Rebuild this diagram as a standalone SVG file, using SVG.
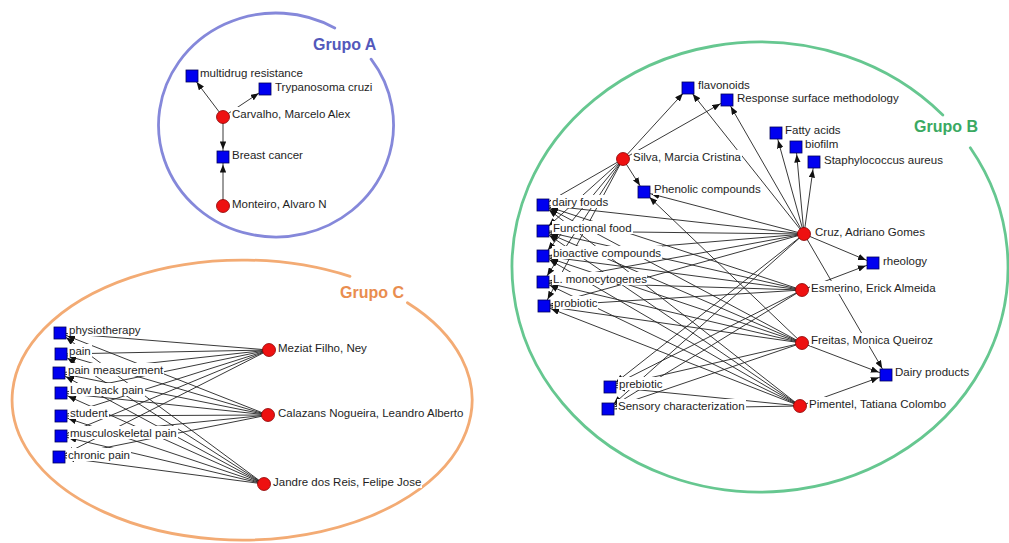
<svg xmlns="http://www.w3.org/2000/svg" width="1009" height="543" viewBox="0 0 1009 543">
<defs>
<marker id="arr" viewBox="0 0 10 8" markerWidth="8" markerHeight="6.4" refX="19.5" refY="4" orient="auto" markerUnits="userSpaceOnUse">
<path d="M0,0 L10,4 L0,8 z" fill="#111"/>
</marker>
<style>
.e{stroke:#222;stroke-width:0.9;fill:none;marker-end:url(#arr)}
.sq{fill:#0000f0;stroke:#00005a;stroke-width:0.8}
.ci{fill:#ee1111;stroke:#8a0000;stroke-width:0.8}
.bg{fill:#fff}
.lb{font-family:"Liberation Sans",Arial,sans-serif;font-size:11.5px;fill:#1e1e1e}
.gl{font-family:"Liberation Sans",Arial,sans-serif;font-size:16px;font-weight:bold}
.grp{fill:none;stroke-width:2.8;stroke-linecap:round}
</style>
</defs>
<rect width="1009" height="543" fill="#fff"/>

<g id="groups">
<path class="grp" stroke="#8588da" d="M371.1,59.2 A117.5,112 0 1 1 334.75,28.0"/>
<text class="gl" x="313" y="50" fill="#5358bb">Grupo A</text>
<path class="grp" stroke="#f3ab74" d="M407.4,302.7 A230,140 0 1 1 350,276.4"/>
<text class="gl" x="340" y="298" fill="#e98d4f">Grupo C</text>
<path class="grp" stroke="#66c790" d="M970.3,147.8 A248,225 0 1 1 942.8,115"/>
<text class="gl" x="914" y="132" fill="#3aa962">Grupo B</text>
</g>

<g id="connectors">
<line class="e" x1="223" y1="117" x2="192" y2="76"/>
<line class="e" x1="223" y1="117" x2="265" y2="89"/>
<line class="e" x1="223" y1="117" x2="223" y2="157"/>
<line class="e" x1="223" y1="206" x2="223" y2="157"/>

<line class="e" x1="269" y1="350" x2="60" y2="333"/>
<line class="e" x1="269" y1="350" x2="61" y2="354"/>
<line class="e" x1="269" y1="350" x2="59" y2="373"/>
<line class="e" x1="269" y1="350" x2="61" y2="393"/>
<line class="e" x1="269" y1="350" x2="61" y2="416"/>
<line class="e" x1="269" y1="350" x2="61" y2="436"/>
<line class="e" x1="269" y1="350" x2="59" y2="457"/>
<line class="e" x1="268" y1="415" x2="60" y2="333"/>
<line class="e" x1="268" y1="415" x2="61" y2="354"/>
<line class="e" x1="268" y1="415" x2="59" y2="373"/>
<line class="e" x1="268" y1="415" x2="61" y2="393"/>
<line class="e" x1="268" y1="415" x2="61" y2="416"/>
<line class="e" x1="268" y1="415" x2="61" y2="436"/>
<line class="e" x1="268" y1="415" x2="59" y2="457"/>
<line class="e" x1="264" y1="484" x2="60" y2="333"/>
<line class="e" x1="264" y1="484" x2="61" y2="354"/>
<line class="e" x1="264" y1="484" x2="59" y2="373"/>
<line class="e" x1="264" y1="484" x2="61" y2="393"/>
<line class="e" x1="264" y1="484" x2="61" y2="416"/>
<line class="e" x1="264" y1="484" x2="61" y2="436"/>
<line class="e" x1="264" y1="484" x2="59" y2="457"/>

<line class="e" x1="623" y1="159" x2="688" y2="88"/>
<line class="e" x1="623" y1="159" x2="727" y2="100"/>
<line class="e" x1="623" y1="159" x2="644" y2="192"/>
<line class="e" x1="623" y1="159" x2="543" y2="205"/>
<line class="e" x1="623" y1="159" x2="543" y2="231"/>
<line class="e" x1="623" y1="159" x2="543" y2="256"/>
<line class="e" x1="623" y1="159" x2="543" y2="282"/>
<line class="e" x1="623" y1="159" x2="544" y2="306"/>

<line class="e" x1="804" y1="234" x2="688" y2="88"/>
<line class="e" x1="804" y1="234" x2="727" y2="100"/>
<line class="e" x1="804" y1="234" x2="776" y2="133"/>
<line class="e" x1="804" y1="234" x2="796" y2="147"/>
<line class="e" x1="804" y1="234" x2="814" y2="162"/>
<line class="e" x1="804" y1="234" x2="644" y2="192"/>
<line class="e" x1="804" y1="234" x2="873" y2="263"/>
<line class="e" x1="804" y1="234" x2="886" y2="375"/>
<line class="e" x1="802" y1="290" x2="873" y2="263"/>
<line class="e" x1="802" y1="343" x2="644" y2="192"/>
<line class="e" x1="802" y1="343" x2="886" y2="375"/>
<line class="e" x1="800" y1="406" x2="886" y2="375"/>

<line class="e" x1="804" y1="234" x2="543" y2="205"/>
<line class="e" x1="804" y1="234" x2="543" y2="231"/>
<line class="e" x1="804" y1="234" x2="543" y2="256"/>
<line class="e" x1="804" y1="234" x2="543" y2="282"/>
<line class="e" x1="804" y1="234" x2="544" y2="306"/>
<line class="e" x1="804" y1="234" x2="610" y2="387"/>
<line class="e" x1="804" y1="234" x2="608" y2="409"/>
<line class="e" x1="802" y1="290" x2="543" y2="205"/>
<line class="e" x1="802" y1="290" x2="543" y2="231"/>
<line class="e" x1="802" y1="290" x2="543" y2="256"/>
<line class="e" x1="802" y1="290" x2="543" y2="282"/>
<line class="e" x1="802" y1="290" x2="544" y2="306"/>
<line class="e" x1="802" y1="290" x2="610" y2="387"/>
<line class="e" x1="802" y1="290" x2="608" y2="409"/>
<line class="e" x1="802" y1="343" x2="543" y2="205"/>
<line class="e" x1="802" y1="343" x2="543" y2="231"/>
<line class="e" x1="802" y1="343" x2="543" y2="256"/>
<line class="e" x1="802" y1="343" x2="543" y2="282"/>
<line class="e" x1="802" y1="343" x2="544" y2="306"/>
<line class="e" x1="802" y1="343" x2="610" y2="387"/>
<line class="e" x1="802" y1="343" x2="608" y2="409"/>
<line class="e" x1="800" y1="406" x2="543" y2="205"/>
<line class="e" x1="800" y1="406" x2="543" y2="231"/>
<line class="e" x1="800" y1="406" x2="543" y2="256"/>
<line class="e" x1="800" y1="406" x2="543" y2="282"/>
<line class="e" x1="800" y1="406" x2="544" y2="306"/>
<line class="e" x1="800" y1="406" x2="610" y2="387"/>
<line class="e" x1="800" y1="406" x2="608" y2="409"/>
</g>

<g id="n-multidrug"><rect class="bg" x="199" y="66" width="105" height="13"/><text class="lb" x="200" y="77">multidrug resistance</text><rect class="sq" x="186" y="70" width="12" height="12"/></g>
<g id="n-trypanosoma"><rect class="bg" x="274" y="80" width="100" height="13"/><text class="lb" x="275" y="91">Trypanosoma cruzi</text><rect class="sq" x="259" y="83" width="12" height="12"/></g>
<g id="n-carvalho"><rect class="bg" x="231" y="107" width="121" height="13"/><text class="lb" x="232" y="118">Carvalho, Marcelo Alex</text><circle class="ci" cx="223" cy="117" r="6.5"/></g>
<g id="n-breast"><rect class="bg" x="231" y="148" width="73" height="13"/><text class="lb" x="232" y="159">Breast cancer</text><rect class="sq" x="217" y="151" width="12" height="12"/></g>
<g id="n-monteiro"><rect class="bg" x="231" y="197" width="97" height="13"/><text class="lb" x="232" y="208">Monteiro, Alvaro N</text><circle class="ci" cx="223" cy="206" r="6.5"/></g>

<g id="n-physiotherapy"><rect class="bg" x="68" y="323" width="74" height="13"/><text class="lb" x="69" y="334">physiotherapy</text><rect class="sq" x="54" y="327" width="12" height="12"/></g>
<g id="n-pain"><rect class="bg" x="68" y="344" width="24" height="13"/><text class="lb" x="69" y="355">pain</text><rect class="sq" x="55" y="348" width="12" height="12"/></g>
<g id="n-painmeas"><rect class="bg" x="67" y="363" width="97" height="13"/><text class="lb" x="68" y="374">pain measurement</text><rect class="sq" x="53" y="367" width="12" height="12"/></g>
<g id="n-lowback"><rect class="bg" x="69" y="383" width="76" height="13"/><text class="lb" x="70" y="394">Low back pain</text><rect class="sq" x="55" y="387" width="12" height="12"/></g>
<g id="n-student"><rect class="bg" x="69" y="406" width="40" height="13"/><text class="lb" x="70" y="417">student</text><rect class="sq" x="55" y="410" width="12" height="12"/></g>
<g id="n-msk"><rect class="bg" x="69" y="426" width="109" height="13"/><text class="lb" x="70" y="437">musculoskeletal pain</text><rect class="sq" x="55" y="430" width="12" height="12"/></g>
<g id="n-chronic"><rect class="bg" x="67" y="448" width="64" height="13"/><text class="lb" x="68" y="459">chronic pain</text><rect class="sq" x="53" y="451" width="12" height="12"/></g>
<g id="n-meziat"><rect class="bg" x="277" y="341" width="91" height="13"/><text class="lb" x="278" y="352">Meziat Filho, Ney</text><circle class="ci" cx="269" cy="350" r="6.5"/></g>
<g id="n-calazans"><rect class="bg" x="277" y="406" width="188" height="13"/><text class="lb" x="278" y="417">Calazans Nogueira, Leandro Alberto</text><circle class="ci" cx="268" cy="415" r="6.5"/></g>
<g id="n-jandre"><rect class="bg" x="272" y="475" width="150" height="13"/><text class="lb" x="273" y="486">Jandre dos Reis, Felipe Jose</text><circle class="ci" cx="264" cy="484" r="6.5"/></g>

<g id="n-flavonoids"><rect class="bg" x="697" y="78" width="54" height="13"/><text class="lb" x="698" y="89">flavonoids</text><rect class="sq" x="682" y="82" width="12" height="12"/></g>
<g id="n-response"><rect class="bg" x="736" y="91" width="164" height="13"/><text class="lb" x="737" y="102">Response surface methodology</text><rect class="sq" x="721" y="94" width="12" height="12"/></g>
<g id="n-fatty"><rect class="bg" x="784" y="123" width="58" height="13"/><text class="lb" x="785" y="134">Fatty acids</text><rect class="sq" x="770" y="127" width="12" height="12"/></g>
<g id="n-biofilm"><rect class="bg" x="804" y="137" width="35" height="13"/><text class="lb" x="805" y="148">biofilm</text><rect class="sq" x="790" y="141" width="12" height="12"/></g>
<g id="n-staph"><rect class="bg" x="823" y="153" width="121" height="13"/><text class="lb" x="824" y="164">Staphylococcus aureus</text><rect class="sq" x="808" y="156" width="12" height="12"/></g>
<g id="n-silva"><rect class="bg" x="632" y="150" width="110" height="13"/><text class="lb" x="633" y="161">Silva, Marcia Cristina</text><circle class="ci" cx="623" cy="159" r="6.5"/></g>
<g id="n-phenolic"><rect class="bg" x="653" y="182" width="109" height="13"/><text class="lb" x="654" y="193">Phenolic compounds</text><rect class="sq" x="638" y="186" width="12" height="12"/></g>
<g id="n-cruz"><rect class="bg" x="814" y="225" width="113" height="13"/><text class="lb" x="815" y="236">Cruz, Adriano Gomes</text><circle class="ci" cx="804" cy="234" r="6.5"/></g>
<g id="n-rheology"><rect class="bg" x="882" y="254" width="46" height="13"/><text class="lb" x="883" y="265">rheology</text><rect class="sq" x="867" y="257" width="12" height="12"/></g>
<g id="n-esmerino"><rect class="bg" x="810" y="281" width="127" height="13"/><text class="lb" x="811" y="292">Esmerino, Erick Almeida</text><circle class="ci" cx="802" cy="290" r="6.5"/></g>
<g id="n-freitas"><rect class="bg" x="810" y="333" width="124" height="13"/><text class="lb" x="811" y="344">Freitas, Monica Queiroz</text><circle class="ci" cx="802" cy="343" r="6.5"/></g>
<g id="n-dairyproducts"><rect class="bg" x="894" y="365" width="76" height="13"/><text class="lb" x="895" y="376">Dairy products</text><rect class="sq" x="880" y="369" width="12" height="12"/></g>
<g id="n-pimentel"><rect class="bg" x="808" y="397" width="141" height="13"/><text class="lb" x="809" y="408">Pimentel, Tatiana Colombo</text><circle class="ci" cx="800" cy="406" r="6.5"/></g>
<g id="n-dairyfoods"><rect class="bg" x="551" y="195" width="58" height="13"/><text class="lb" x="552" y="206">dairy foods</text><rect class="sq" x="537" y="199" width="12" height="12"/></g>
<g id="n-functional"><rect class="bg" x="552" y="221" width="81" height="13"/><text class="lb" x="553" y="232">Functional food</text><rect class="sq" x="537" y="225" width="12" height="12"/></g>
<g id="n-bioactive"><rect class="bg" x="552" y="246" width="110" height="13"/><text class="lb" x="553" y="257">bioactive compounds</text><rect class="sq" x="537" y="250" width="12" height="12"/></g>
<g id="n-lmono"><rect class="bg" x="552" y="272" width="95" height="13"/><text class="lb" x="553" y="283">L. monocytogenes</text><rect class="sq" x="537" y="276" width="12" height="12"/></g>
<g id="n-probiotic"><rect class="bg" x="553" y="296" width="45" height="13"/><text class="lb" x="554" y="307">probiotic</text><rect class="sq" x="538" y="300" width="12" height="12"/></g>
<g id="n-prebiotic"><rect class="bg" x="618" y="377" width="45" height="13"/><text class="lb" x="619" y="388">prebiotic</text><rect class="sq" x="604" y="381" width="12" height="12"/></g>
<g id="n-sensory"><rect class="bg" x="617" y="399" width="129" height="13"/><text class="lb" x="618" y="410">Sensory characterization</text><rect class="sq" x="602" y="403" width="12" height="12"/></g>
</svg>
